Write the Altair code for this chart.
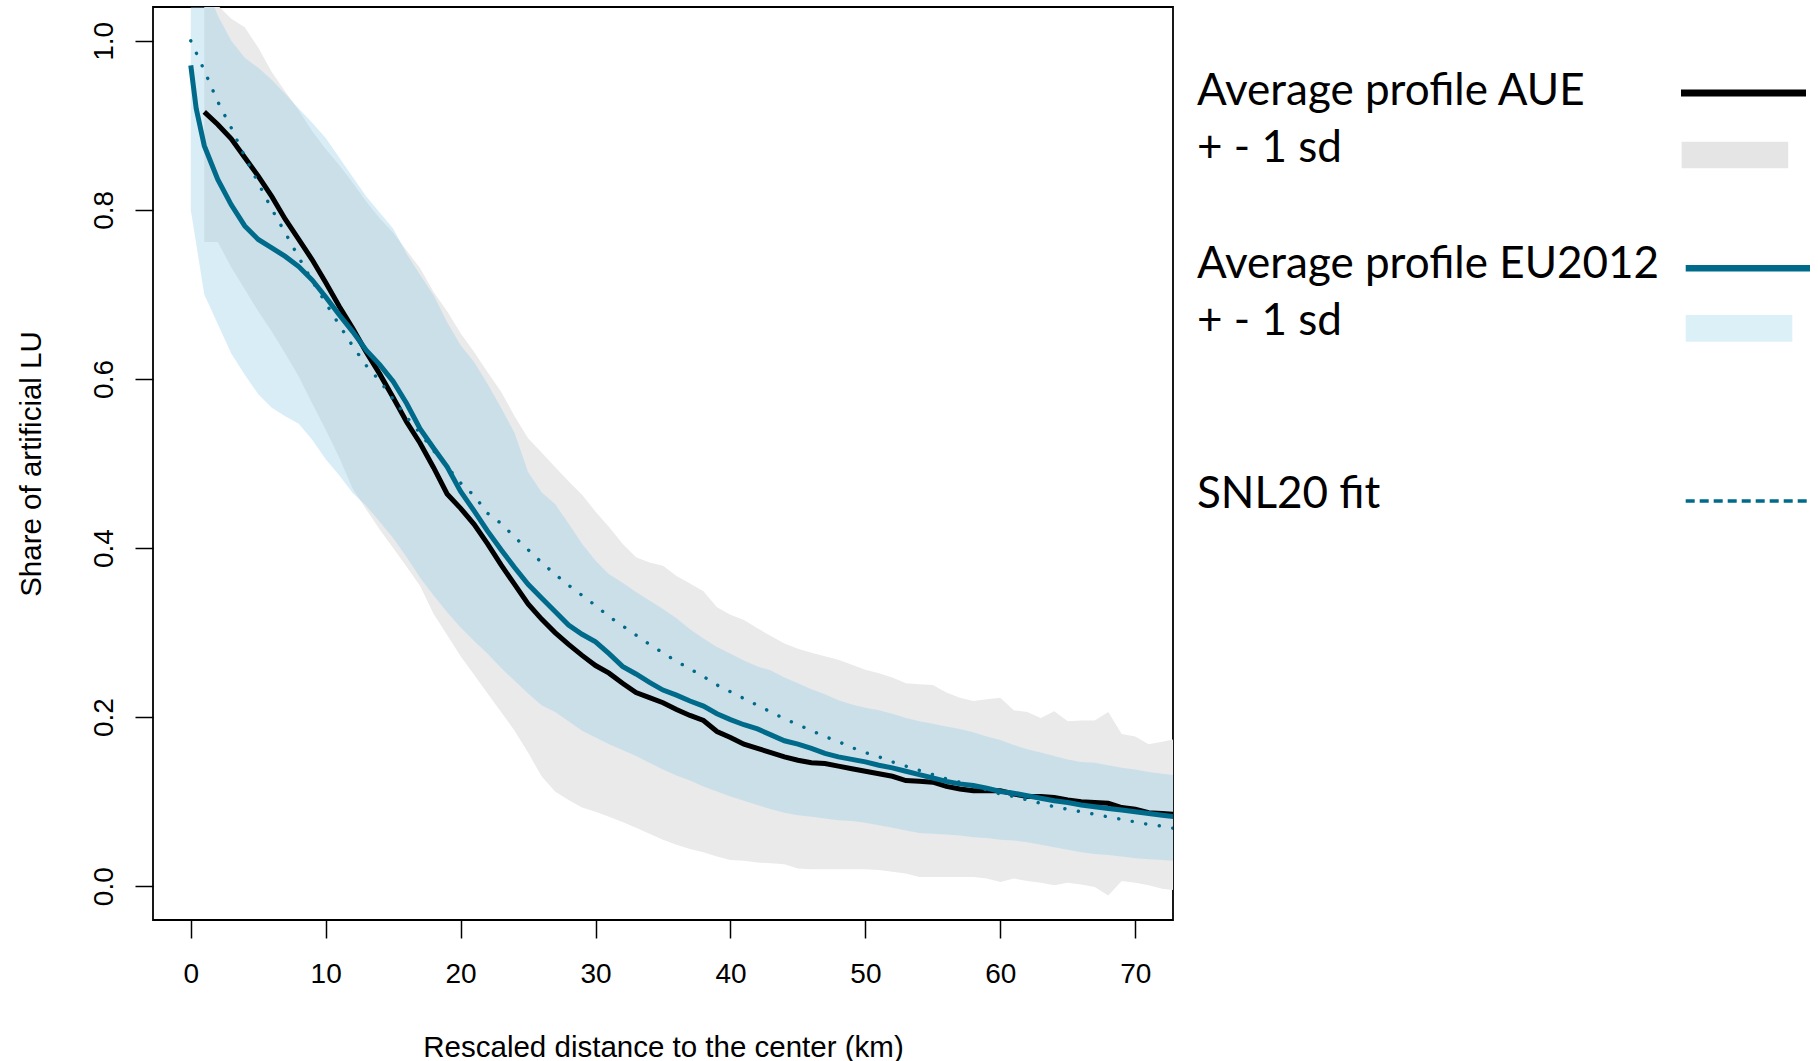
import altair as alt
import pandas as pd

# ---------------- data ----------------
x_aue = list(range(1, 74))
aue_upper = [1.06, 1.042, 1.026, 1.016, 0.992, 0.963, 0.940, 0.918, 0.893, 0.872,
             0.853, 0.832, 0.810, 0.790, 0.773, 0.752, 0.731, 0.703, 0.680, 0.654,
             0.632, 0.608, 0.585, 0.556, 0.530, 0.513, 0.496, 0.479, 0.463, 0.443,
             0.425, 0.405, 0.389, 0.383, 0.379, 0.367, 0.358, 0.349, 0.330, 0.321,
             0.315, 0.305, 0.296, 0.287, 0.281, 0.276, 0.272, 0.268, 0.262, 0.256,
             0.252, 0.247, 0.240, 0.239, 0.238, 0.229, 0.223, 0.219, 0.221, 0.223,
             0.208, 0.206, 0.199, 0.207, 0.195, 0.196, 0.196, 0.206, 0.180, 0.177,
             0.168, 0.171, 0.174]
aue_lower = [0.762, 0.762, 0.732, 0.706, 0.680, 0.656, 0.630, 0.603, 0.571, 0.540,
             0.507, 0.470, 0.446, 0.422, 0.400, 0.378, 0.355, 0.322, 0.297, 0.272,
             0.250, 0.228, 0.206, 0.184, 0.158, 0.130, 0.112, 0.102, 0.093, 0.088,
             0.082, 0.076, 0.069, 0.062, 0.055, 0.049, 0.044, 0.040, 0.035, 0.031,
             0.030, 0.028, 0.027, 0.026, 0.021, 0.020, 0.020, 0.020, 0.020, 0.020,
             0.019, 0.017, 0.015, 0.011, 0.011, 0.011, 0.011, 0.011, 0.009, 0.005,
             0.009, 0.006, 0.004, 0.001, 0.004, 0.002, -0.001, -0.011, 0.006, 0.004,
             0.001, -0.003, -0.005]
aue_mean = [0.916, 0.901, 0.884, 0.862, 0.840, 0.816, 0.789, 0.765, 0.741, 0.714,
            0.686, 0.660, 0.632, 0.606, 0.578, 0.549, 0.524, 0.495, 0.464, 0.447,
            0.428, 0.405, 0.380, 0.357, 0.334, 0.316, 0.300, 0.286, 0.273, 0.261,
            0.252, 0.240, 0.229, 0.223, 0.217, 0.209, 0.202, 0.196, 0.183, 0.176,
            0.168, 0.163, 0.158, 0.153, 0.149, 0.146, 0.145, 0.142, 0.139, 0.136,
            0.133, 0.130, 0.125, 0.124, 0.123, 0.118, 0.115, 0.113, 0.113, 0.113,
            0.109, 0.106, 0.106, 0.105, 0.102, 0.100, 0.099, 0.098, 0.093, 0.091,
            0.087, 0.086, 0.085]

x_eu = list(range(0, 74))
eu_upper = [1.10, 1.07, 1.03, 1.00, 0.980, 0.968, 0.954, 0.937, 0.920, 0.903,
            0.885, 0.862, 0.839, 0.816, 0.797, 0.778, 0.748, 0.723, 0.699, 0.667,
            0.640, 0.620, 0.594, 0.566, 0.536, 0.490, 0.466, 0.452, 0.429, 0.405,
            0.385, 0.369, 0.359, 0.348, 0.338, 0.328, 0.317, 0.304, 0.293, 0.283,
            0.275, 0.267, 0.260, 0.255, 0.247, 0.240, 0.233, 0.227, 0.220, 0.215,
            0.211, 0.208, 0.204, 0.199, 0.195, 0.192, 0.189, 0.186, 0.182, 0.177,
            0.173, 0.167, 0.162, 0.158, 0.154, 0.150, 0.147, 0.146, 0.143, 0.140,
            0.138, 0.135, 0.133, 0.131]
eu_lower = [0.800, 0.700, 0.665, 0.630, 0.605, 0.582, 0.566, 0.556, 0.547, 0.528,
            0.505, 0.486, 0.465, 0.450, 0.431, 0.412, 0.389, 0.365, 0.344, 0.324,
            0.306, 0.290, 0.275, 0.258, 0.243, 0.228, 0.214, 0.206, 0.195, 0.184,
            0.176, 0.168, 0.161, 0.154, 0.146, 0.138, 0.131, 0.125, 0.118, 0.112,
            0.106, 0.101, 0.096, 0.091, 0.087, 0.084, 0.082, 0.080, 0.078, 0.077,
            0.075, 0.072, 0.069, 0.066, 0.063, 0.062, 0.061, 0.060, 0.058, 0.057,
            0.055, 0.054, 0.052, 0.049, 0.046, 0.043, 0.040, 0.038, 0.037, 0.035,
            0.033, 0.032, 0.031, 0.030]
x_eu_mean = [0, 0.4] + list(range(1, 74))
eu_mean = [0.971, 0.920, 0.876, 0.836, 0.806, 0.781, 0.765, 0.755, 0.745, 0.733,
           0.717, 0.697, 0.676, 0.656, 0.634, 0.617, 0.597, 0.571, 0.541, 0.518,
           0.496, 0.467, 0.444, 0.420, 0.398, 0.377, 0.357, 0.341, 0.325, 0.309,
           0.298, 0.289, 0.275, 0.260, 0.251, 0.241, 0.232, 0.226, 0.219, 0.213,
           0.204, 0.197, 0.191, 0.186, 0.179, 0.172, 0.168, 0.163, 0.157, 0.153,
           0.150, 0.147, 0.143, 0.140, 0.136, 0.132, 0.128, 0.124, 0.121, 0.119,
           0.116, 0.112, 0.110, 0.107, 0.104, 0.101, 0.099, 0.096, 0.094, 0.092,
           0.090, 0.088, 0.086, 0.084, 0.082]

x_fit = list(range(0, 74))
fit = [1.000, 0.965, 0.928, 0.897, 0.863, 0.832, 0.801, 0.773, 0.744, 0.716,
       0.690, 0.664, 0.639, 0.616, 0.598, 0.576, 0.555, 0.536, 0.515, 0.496,
       0.477, 0.462, 0.441, 0.429, 0.413, 0.398, 0.383, 0.369, 0.356, 0.344,
       0.332, 0.319, 0.308, 0.297, 0.286, 0.276, 0.266, 0.257, 0.248, 0.238,
       0.230, 0.222, 0.214, 0.206, 0.198, 0.191, 0.184, 0.177, 0.171, 0.164,
       0.158, 0.153, 0.147, 0.142, 0.137, 0.132, 0.127, 0.123, 0.118, 0.114,
       0.109, 0.106, 0.102, 0.098, 0.094, 0.091, 0.088, 0.085, 0.082, 0.079,
       0.076, 0.073, 0.071, 0.068]

x_ticks = [0, 10, 20, 30, 40, 50, 60, 70]
y_ticks = [0.0, 0.2, 0.4, 0.6, 0.8, 1.0]

legend_labels = ["Average profile AUE", "+ - 1 sd", "Average profile EU2012",
                 "+ - 1 sd", "SNL20 fit"]

# ---------------- tables ----------------
df_aue_band = pd.DataFrame({"x": x_aue, "lo": aue_lower, "hi": aue_upper})
df_eu_band = pd.DataFrame({"x": x_eu, "lo": eu_lower, "hi": eu_upper})
df_aue = pd.DataFrame({"x": x_aue, "y": aue_mean})
df_eu = pd.DataFrame({"x": x_eu_mean, "y": eu_mean})
df_fit = pd.DataFrame({"x": x_fit, "y": fit})
one = pd.DataFrame({"k": [0]})

W, H = 1020, 913
AX_FONT = "Liberation Sans"
LEG_FONT = "Lato"
TEAL = "#006a8a"

xs = alt.Scale(domain=[-2.8, 72.8], nice=False, zero=False)
ys = alt.Scale(domain=[-0.04, 1.04], nice=False, zero=False)

x_axis = alt.Axis(values=x_ticks, format="d", title="Rescaled distance to the center (km)",
                  labelPadding=22, titleX=510, titleY=136, titleBaseline="alphabetic",
                  titleAlign="center")
y_axis = alt.Axis(values=y_ticks, format=".1f", title="Share of artificial LU",
                  labelAngle=270, labelAlign="center", labelBaseline="alphabetic",
                  labelPadding=23, titleAngle=270, titleX=-113, titleY=456.5,
                  titleAlign="center", titleBaseline="alphabetic")

X = alt.X("x:Q", scale=xs, axis=x_axis)
Y = alt.Y("y:Q", scale=ys, axis=y_axis)

aue_band = alt.Chart(df_aue_band).mark_area(color="#eaeaea", clip=True, interpolate="linear").encode(
    x=X, y=alt.Y("hi:Q", scale=ys, axis=y_axis), y2="lo:Q")
eu_band = alt.Chart(df_eu_band).mark_area(color="rgb(149,206,232)", opacity=0.36, clip=True).encode(
    x=X, y=alt.Y("hi:Q", scale=ys, axis=y_axis), y2="lo:Q")
aue_line = alt.Chart(df_aue).mark_line(color="black", strokeWidth=5, clip=True).encode(x=X, y=Y)
eu_line = alt.Chart(df_eu).mark_line(color=TEAL, strokeWidth=5, clip=True).encode(x=X, y=Y)
fit_line = alt.Chart(df_fit).mark_line(color=TEAL, strokeWidth=3.4, strokeDash=[0.1, 13.6],
                                       strokeCap="round", clip=True).encode(x=X, y=Y)

# ---------------- legend (drawn at the right of the plot) ----------------
TX = 1044
leg_y = [98, 154.7, 271.3, 328, 501.3]
legend_texts = [
    alt.Chart(one).mark_text(text=lab, font=LEG_FONT, fontSize=44, align="left",
                             baseline="alphabetic", color="black").encode(
        x=alt.value(TX), y=alt.value(yy))
    for lab, yy in zip(legend_labels, leg_y)
]
sym_aue = alt.Chart(one).mark_rule(color="black", strokeWidth=7).encode(
    x=alt.value(1528), x2=alt.value(1653), y=alt.value(86))
sym_aue_sd = alt.Chart(one).mark_rect(color="#e5e5e5").encode(
    x=alt.value(1528.6), x2=alt.value(1635.2), y=alt.value(134.7), y2=alt.value(161.3))
sym_eu = alt.Chart(one).mark_rule(color=TEAL, strokeWidth=6.5).encode(
    x=alt.value(1532.7), x2=alt.value(1657), y=alt.value(261.3))
sym_eu_sd = alt.Chart(one).mark_rect(color="#dcf0f8").encode(
    x=alt.value(1532.7), x2=alt.value(1639.3), y=alt.value(308), y2=alt.value(334.7))
sym_fit = alt.Chart(one).mark_rule(color=TEAL, strokeWidth=3.5, strokeDash=[9, 5]).encode(
    x=alt.value(1532.7), x2=alt.value(1657), y=alt.value(494))

chart = alt.layer(aue_band, eu_band, aue_line, eu_line, fit_line,
                  *legend_texts, sym_aue, sym_aue_sd, sym_eu, sym_eu_sd, sym_fit).properties(
    width=W, height=H,
    autosize=alt.AutoSizeParams(type="none"),
    padding={"left": 153, "top": 7, "right": 645, "bottom": 141},
    background="white",
).configure_view(
    stroke="black", strokeWidth=1.8
).configure_axis(
    domain=False, grid=False, ticks=True, tickColor="black", tickWidth=1.5, tickSize=18,
    labelFont=AX_FONT, labelFontSize=28, labelColor="black",
    titleFont=AX_FONT, titleFontSize=29.5, titleColor="black", titleFontWeight="normal",
    labelOverlap=False, labelFlush=False,
)

chart.save("out.html", embed_options={"renderer": "svg", "actions": False})
